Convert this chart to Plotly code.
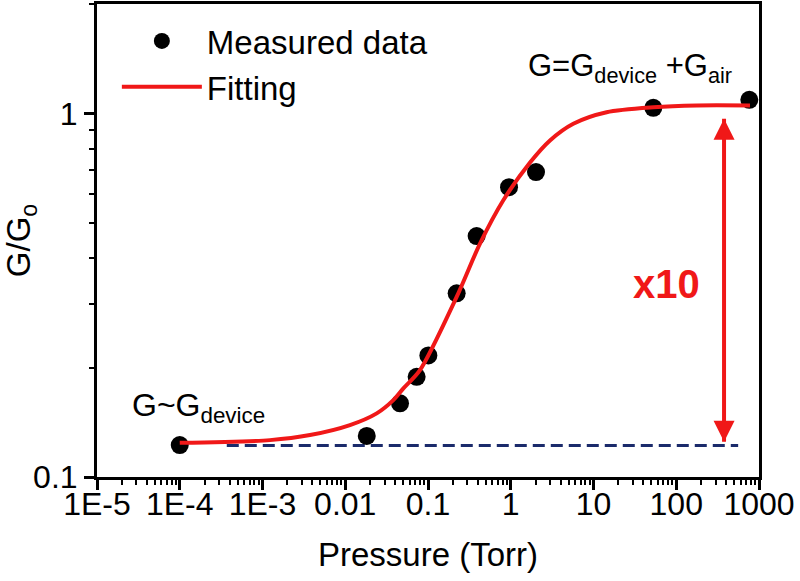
import plotly.graph_objects as go

# Measured data
pressure = [1e-4, 0.0182, 0.0459, 0.0729, 0.101, 0.222, 0.387, 0.953, 2.02, 52.8, 764]
g_ratio = [0.1224, 0.1297, 0.1595, 0.1886, 0.216, 0.320, 0.460, 0.627, 0.690, 1.036, 1.09]

# Fitting curve
fit_p = [1e-4, 1.23e-3, 3.75e-3, 0.0114, 0.024, 0.0381, 0.0504, 0.080, 0.222, 0.425, 0.813,
         1.71, 2.98, 5.70, 14.4, 52.8, 176.6, 778]
fit_g = [0.1242, 0.1263, 0.1304, 0.1389, 0.1496, 0.1627, 0.1753, 0.1968, 0.3130, 0.4385, 0.5768,
         0.733, 0.843, 0.937, 1.008, 1.040, 1.052, 1.052]

# Baseline (G ~ G_device)
base_p = [3.7e-4, 560]
base_g = [0.122, 0.122]

# Double arrow (x10)
arrow_p = [378, 378]
arrow_g = [0.967, 0.125]

x_tickvals = [1e-5, 1e-4, 1e-3, 0.01, 0.1, 1, 10, 100, 1000]
x_ticktext = ["1E-5", "1E-4", "1E-3", "0.01", "0.1", "1", "10", "100", "1000"]
y_tickvals = [0.1, 1]
y_ticktext = ["0.1", "1"]

FONT = "Liberation Sans, Arial, sans-serif"
RED = "#f01818"

fig = go.Figure()

fig.add_trace(go.Scatter(
    x=base_p, y=base_g, mode="lines",
    line=dict(color="#1b2b6b", width=3, dash="12px,6px"),
    showlegend=False, hoverinfo="skip"))

fig.add_trace(go.Scatter(
    x=pressure, y=g_ratio, mode="markers", name="Measured data",
    marker=dict(color="black", size=18)))

fig.add_trace(go.Scatter(
    x=fit_p, y=fit_g, mode="lines", name="Fitting",
    line=dict(color=RED, width=4, shape="spline", smoothing=0.8)))

fig.add_trace(go.Scatter(
    x=arrow_p, y=arrow_g, mode="lines+markers",
    line=dict(color=RED, width=4),
    marker=dict(color=RED, size=21, symbol=["arrow-up", "arrow-down"], line=dict(width=0)),
    showlegend=False, hoverinfo="skip"))

fig.add_annotation(x=0.805, y=0.865, xref="paper", yref="paper", xanchor="center", yanchor="middle",
                   text="G=G<sub>device</sub> +G<sub>air</sub>", showarrow=False,
                   font=dict(size=31, color="black", family=FONT))
fig.add_annotation(x=0.153, y=0.146, xref="paper", yref="paper", xanchor="center", yanchor="middle",
                   text="G~G<sub>device</sub>", showarrow=False,
                   font=dict(size=32, color="black", family=FONT))
fig.add_annotation(x=0.861, y=0.408, xref="paper", yref="paper", xanchor="center", yanchor="middle",
                   text="<b>x10</b>", showarrow=False,
                   font=dict(size=40, color=RED, family=FONT))

axis_common = dict(
    showline=True, linecolor="black", linewidth=3, mirror=True,
    ticks="outside", ticklen=10, tickwidth=2.5, tickcolor="black",
    showgrid=False, zeroline=False, automargin=False,
    tickfont=dict(size=32, color="black", family=FONT),
    minor=dict(ticks="outside", ticklen=5, tickwidth=2, tickcolor="black", dtick="D1", showgrid=False),
)

fig.update_layout(
    width=800, height=581,
    margin=dict(l=97, r=41, t=4, b=104),
    paper_bgcolor="white", plot_bgcolor="white",
    font=dict(family=FONT, color="black"),
    xaxis=dict(type="log", range=[-5, 3], tickmode="array",
               tickvals=x_tickvals, ticktext=x_ticktext, tickangle=0,
               ticklabelstandoff=-13,
               title=dict(text="Pressure (Torr)", font=dict(size=33, color="black", family=FONT),
                          standoff=22),
               **axis_common),
    yaxis=dict(type="log", range=[-1, 0.301], tickmode="array",
               tickvals=y_tickvals, ticktext=y_ticktext,
               title=dict(text="G/G<sub>o</sub>", font=dict(size=33, color="black", family=FONT),
                          standoff=12),
               **axis_common),
    legend=dict(x=0.03, y=0.981, xanchor="left", yanchor="top",
                bgcolor="rgba(0,0,0,0)", font=dict(size=33, color="black", family=FONT),
                itemwidth=80, tracegroupgap=0),
)

fig.write_html("out.html", config={"displayModeBar": False},
               post_script="document.body.style.margin='0px';document.body.style.overflow='hidden';")
